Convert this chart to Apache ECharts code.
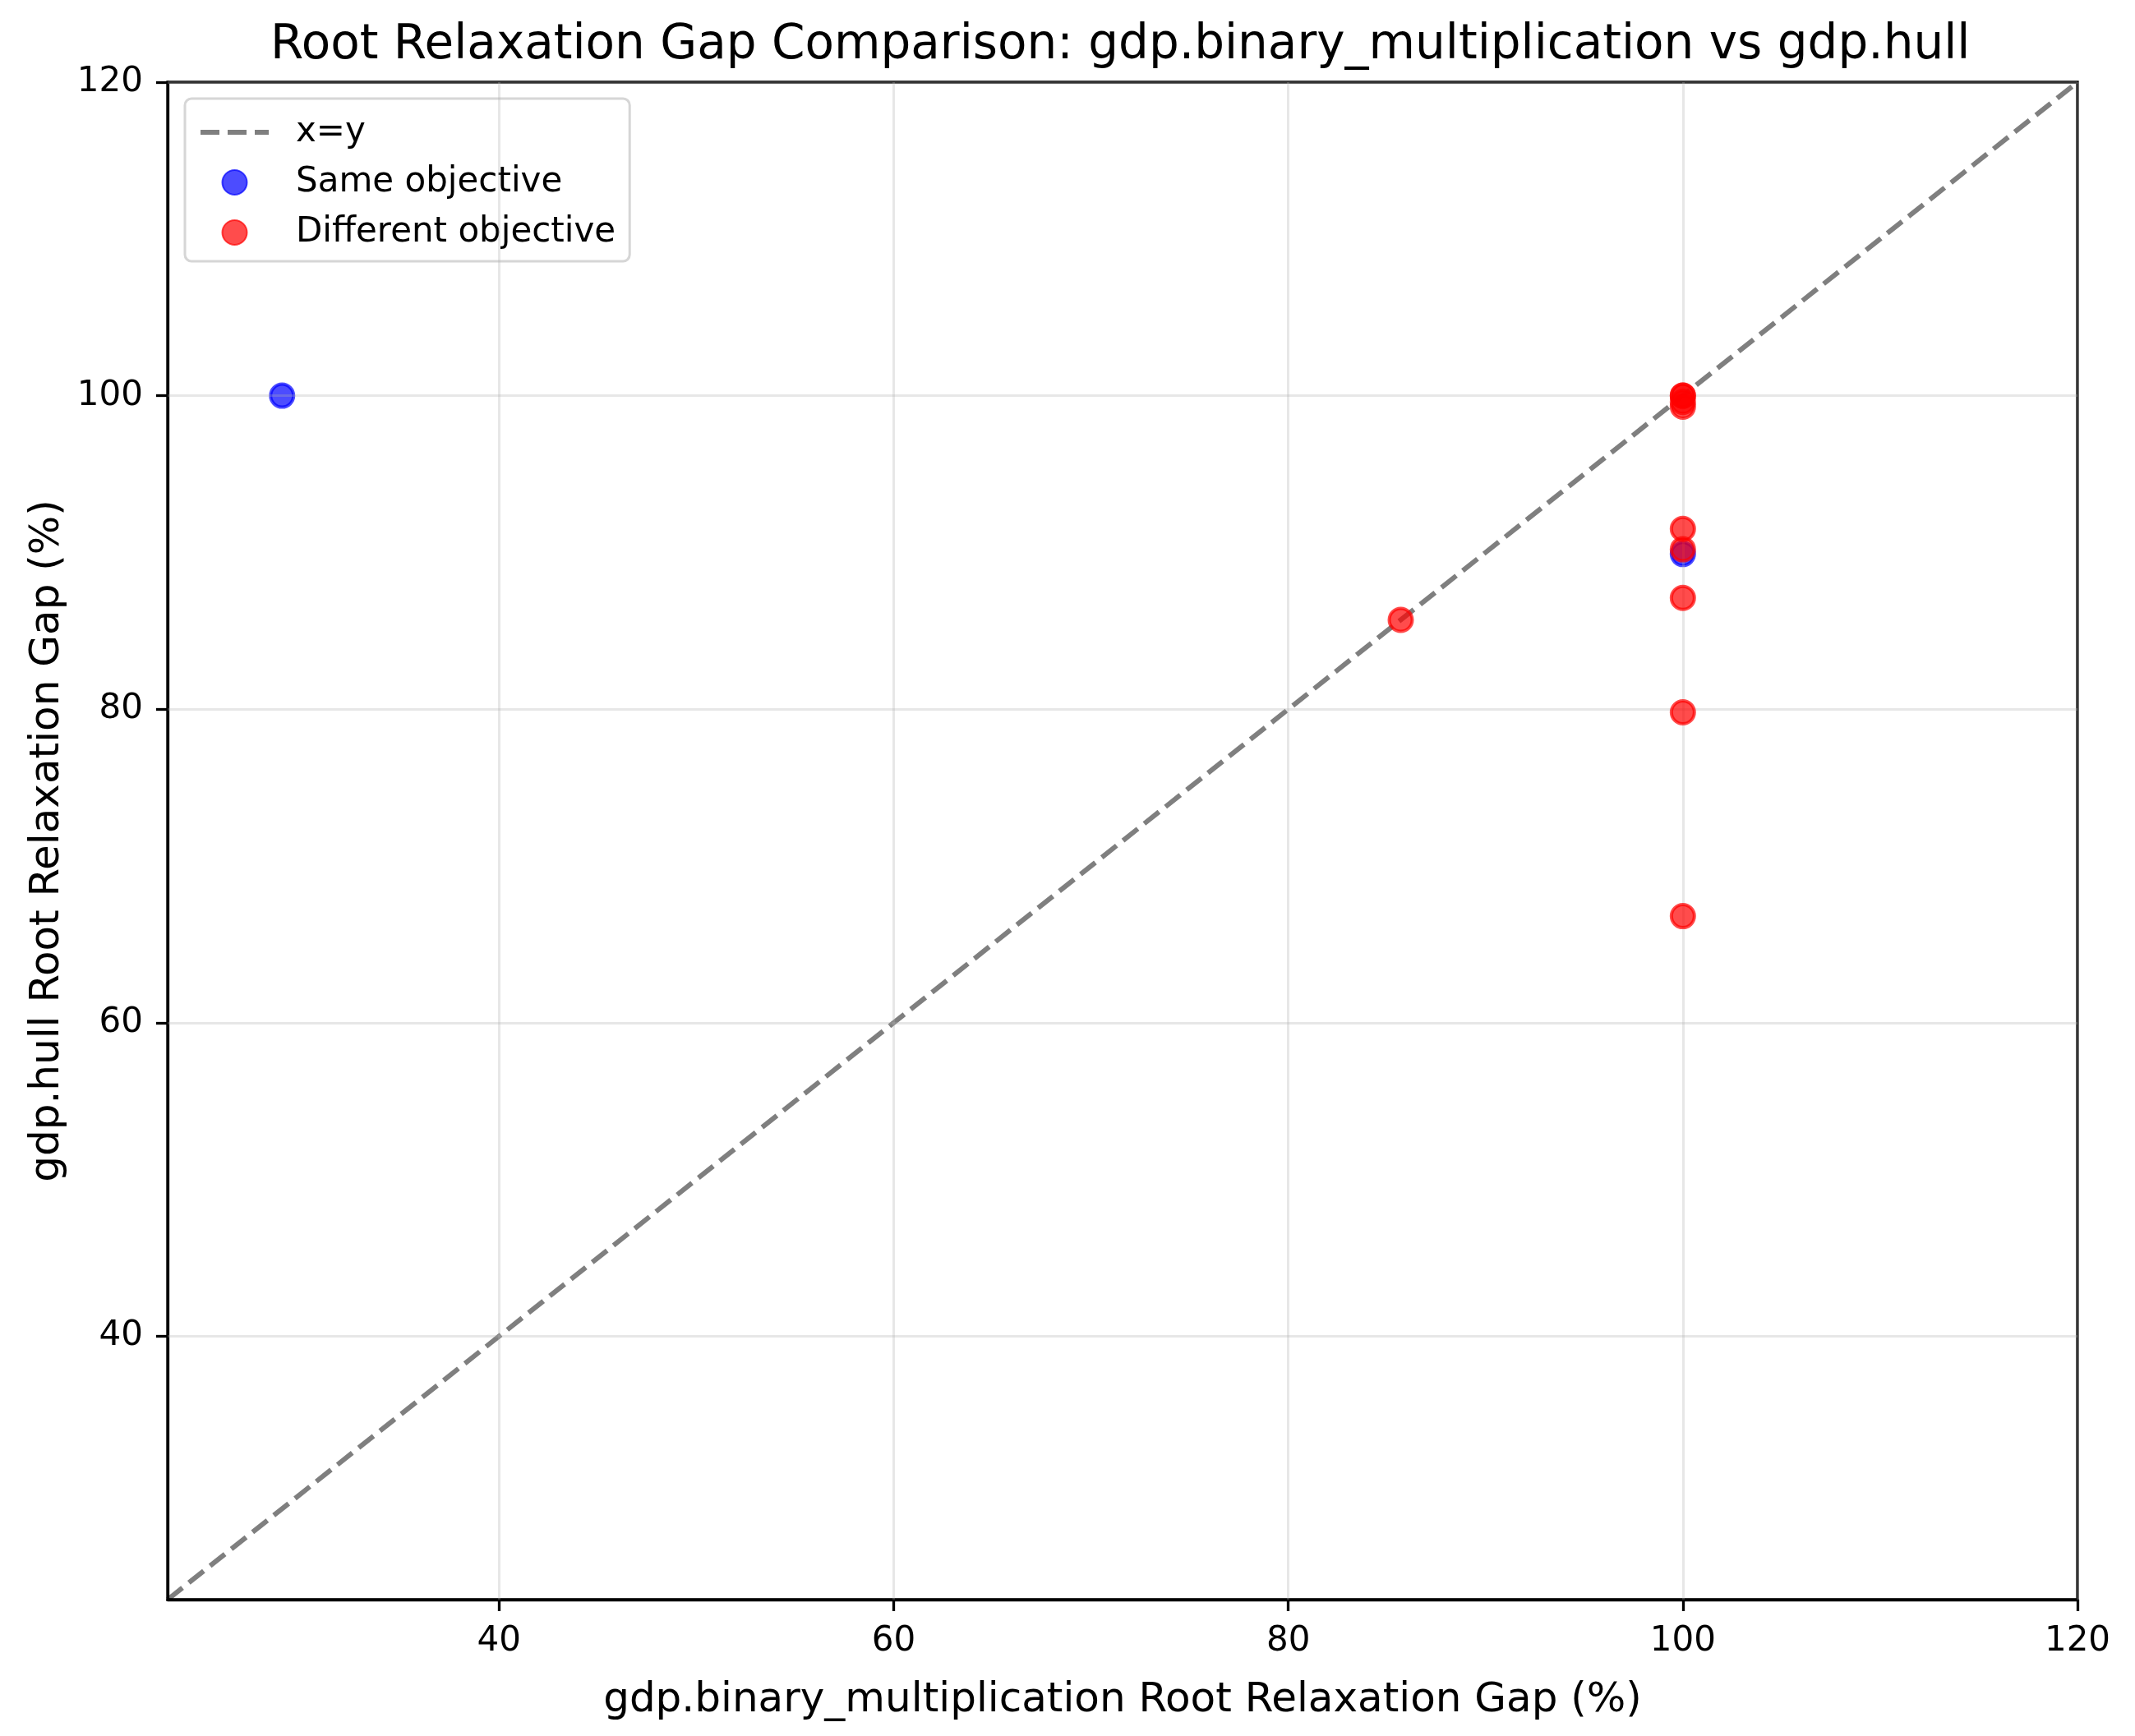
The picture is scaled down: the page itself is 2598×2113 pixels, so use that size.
<!DOCTYPE html>
<html>
<head>
<meta charset="utf-8">
<script src="https://cdn.jsdelivr.net/npm/echarts@6/dist/echarts.min.js"></script>
<style>
  html, body { margin: 0; padding: 0; background: #fff; }
  #chart { width: 2598px; height: 2113px; }
</style>
</head>
<body>
<div id="chart"></div>
<script>
// data
var axisMin = 23.2;
var axisMax = 120;
var tickValues = [40, 60, 80, 100, 120];

var sameX = [29.0, 100.0];
var sameY = [100.0, 89.9];

var diffX = [85.7, 100, 100, 100, 100, 100, 100, 100, 100, 100];
var diffY = [85.7, 100, 100, 99.6, 99.3, 91.5, 90.2, 87.1, 79.8, 66.8];

var diagX = [axisMin, axisMax];
var diagY = [axisMin, axisMax];

function pairs(xs, ys) {
  return xs.map(function (x, i) { return [x, ys[i]]; });
}

var font = "DejaVu Sans";

var myChart = echarts.init(document.getElementById("chart"));

function axisCfg(name, gap) {
  return {
    type: 'value',
    min: axisMin,
    max: axisMax,
    name: name,
    nameLocation: 'middle',
    nameGap: gap,
    nameTextStyle: { fontFamily: font, fontSize: 50, color: '#000' },
    axisLine: { show: true, onZero: false, lineStyle: { color: '#000', width: 3.3 } },
    axisTick: { show: true, length: 14, lineStyle: { color: '#000', width: 3.3 }, customValues: tickValues },
    axisLabel: { fontFamily: font, fontSize: 42, color: '#000', margin: 30, customValues: tickValues },
    splitLine: { show: false }
  };
}

var option = {
  animation: false,
  backgroundColor: '#fff',
  title: {
    text: 'Root Relaxation Gap Comparison: gdp.binary_multiplication vs gdp.hull',
    left: 324,
    top: 22,
    textStyle: { fontFamily: font, fontSize: 58, fontWeight: 'normal', color: '#000' }
  },
  grid: { left: 204, right: 70, top: 100, bottom: 166, show: true, borderColor: '#000', borderWidth: 3.3 },
  legend: {
    orient: 'vertical',
    left: 225,
    top: 120,
    padding: [20, 17, 14, 16],
    itemGap: 19,
    itemWidth: 83,
    itemHeight: 30,
    backgroundColor: '#fff',
    borderColor: '#d6d6d6',
    borderWidth: 3,
    borderRadius: 8,
    textStyle: { fontFamily: font, fontSize: 42, color: '#000', padding: [0, 0, 0, 28] },
    data: [
      { name: 'x=y', itemStyle: { opacity: 0 }, lineStyle: { width: 6, type: [23, 10], color: 'rgba(0,0,0,0.5)' } },
      'Same objective',
      'Different objective'
    ]
  },
  xAxis: axisCfg('gdp.binary_multiplication Root Relaxation Gap (%)', 98),
  yAxis: axisCfg('gdp.hull Root Relaxation Gap (%)', 120),
  series: [
    {
      // grid lines drawn at the tick values
      name: 'grid',
      type: 'line',
      data: [],
      silent: true,
      markLine: {
        silent: true,
        symbol: 'none',
        label: { show: false },
        lineStyle: { color: 'rgba(176,176,176,0.3)', width: 3, type: 'solid' },
        data: tickValues.map(function (v) { return { xAxis: v }; })
          .concat(tickValues.map(function (v) { return { yAxis: v }; }))
      }
    },
    {
      name: 'x=y',
      type: 'line',
      data: pairs(diagX, diagY),
      showSymbol: false,
      symbol: 'none',
      lineStyle: { color: 'rgba(0,0,0,0.5)', width: 6, type: [23, 10] },
      itemStyle: { color: 'rgba(0,0,0,0.5)' },
      z: 3
    },
    {
      name: 'Same objective',
      type: 'scatter',
      data: pairs(sameX, sameY),
      symbolSize: 28,
      itemStyle: { color: 'rgba(0,0,255,0.7)', borderColor: 'rgba(0,0,255,0.7)', borderWidth: 4, opacity: 1 },
      z: 4
    },
    {
      name: 'Different objective',
      type: 'scatter',
      data: pairs(diffX, diffY),
      symbolSize: 28,
      itemStyle: { color: 'rgba(255,0,0,0.7)', borderColor: 'rgba(255,0,0,0.7)', borderWidth: 4, opacity: 1 },
      z: 5
    }
  ]
};
myChart.setOption(option);
</script>
</body>
</html>
